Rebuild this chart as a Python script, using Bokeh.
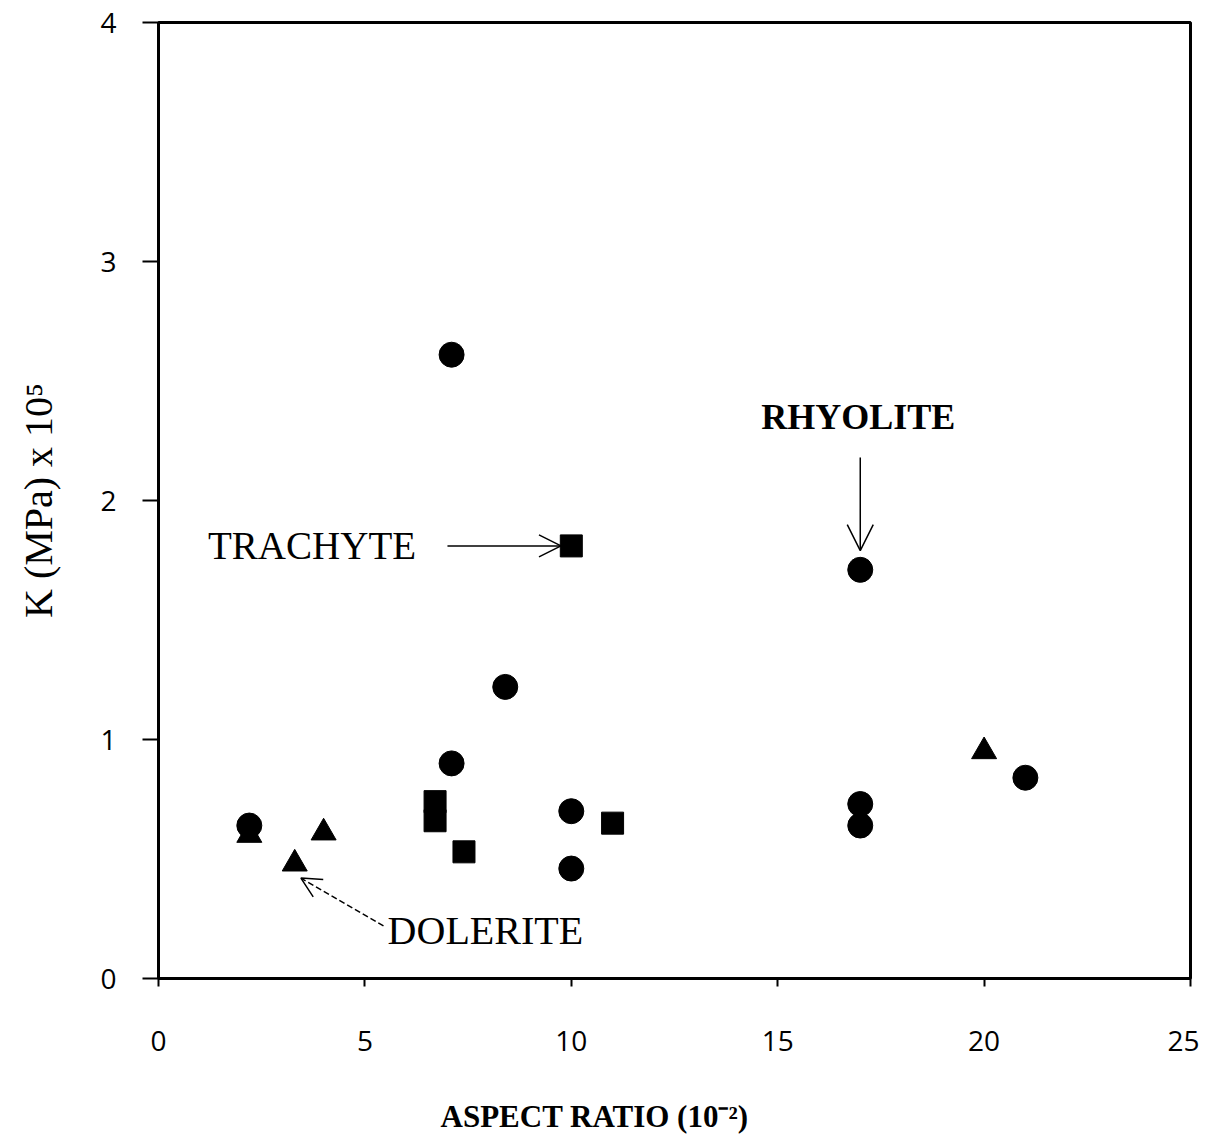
from bokeh.plotting import figure
from bokeh.models import Range1d, FixedTicker, Label, Arrow, OpenHead, Title
from bokeh.embed import file_html
from bokeh.resources import INLINE

# ---- data ----
circle_x = [2.2, 7.1, 7.1, 8.4, 10.0, 10.0, 17.0, 17.0, 17.0, 21.0]
circle_y = [0.64, 2.61, 0.90, 1.22, 0.70, 0.46, 1.71, 0.73, 0.64, 0.84]
square_x = [6.7, 6.7, 7.4, 10.0, 11.0]
square_y = [0.74, 0.66, 0.53, 1.81, 0.65]
triangle_x = [2.2, 3.3, 4.0, 20.0]
triangle_y = [0.60, 0.48, 0.61, 0.95]
x_ticks = [0, 5, 10, 15, 20, 25]
y_ticks = [0, 1, 2, 3, 4]

SERIF = "Liberation Serif"
TICKFONT = "Open Sans"

p = figure(width=1199, height=1190,
           x_range=Range1d(0, 25), y_range=Range1d(0, 4),
           output_backend="svg", toolbar_location=None,
           min_border_left=158, min_border_right=9,
           min_border_top=22, min_border_bottom=212)

p.grid.visible = False
p.outline_line_color = "black"
p.outline_line_width = 3
p.outline_line_alpha = 1.0
p.background_fill_color = "white"
p.border_fill_color = "white"

for ax in (p.xaxis[0], p.yaxis[0]):
    ax.axis_line_width = 3
    ax.axis_line_color = "black"
    ax.major_tick_line_width = 2
    ax.major_tick_line_color = "black"
    ax.minor_tick_line_color = None
    ax.major_tick_in = 0
    ax.major_label_text_font = TICKFONT
    ax.major_label_text_font_size = "28px"
    ax.major_label_text_color = "black"

p.xaxis.ticker = FixedTicker(ticks=x_ticks)
p.yaxis.ticker = FixedTicker(ticks=y_ticks)
p.xaxis.major_tick_out = 8
p.xaxis.major_label_standoff = 44
p.yaxis.major_tick_out = 16
p.yaxis.major_label_standoff = 26

p.yaxis.axis_label = "K (MPa) x 10\u2075"
p.yaxis.axis_label_text_font = SERIF
p.yaxis.axis_label_text_font_style = "normal"
p.yaxis.axis_label_text_font_size = "40px"
p.yaxis.axis_label_text_color = "black"
p.yaxis.axis_label_standoff = 36

# x-axis title, placed left of centre as in the reference
p.add_layout(Title(text="ASPECT RATIO (10\u207b\u00b2)", align="left", offset=282,
                   text_font=SERIF, text_font_style="bold", text_font_size="31px",
                   text_color="black", standoff=86), "below")

# ---- markers ----
p.scatter(circle_x, circle_y, marker="circle", size=25, color="black")
p.scatter(square_x, square_y, marker="square", size=22, color="black")
p.scatter(triangle_x, triangle_y, marker="triangle", size=25, color="black")

# ---- annotations ----
p.add_layout(Label(x=1.2, y=1.81, text="TRACHYTE", text_font=SERIF,
                   text_font_size="39px", text_baseline="middle",
                   text_align="left", text_color="black"))
p.add_layout(Arrow(end=OpenHead(size=22, line_width=1.5, line_color="black"),
                   x_start=7.0, y_start=1.81, x_end=9.75, y_end=1.81,
                   line_width=1.5, line_color="black"))

p.add_layout(Label(x=16.95, y=2.35, text="RHYOLITE", text_font=SERIF,
                   text_font_style="bold", text_font_size="36px",
                   text_baseline="middle", text_align="center", text_color="black"))
p.add_layout(Arrow(end=OpenHead(size=26, line_width=1.5, line_color="black"),
                   x_start=17.0, y_start=2.18, x_end=17.0, y_end=1.79,
                   line_width=1.5, line_color="black"))

p.add_layout(Label(x=5.55, y=0.2, text="DOLERITE", text_font=SERIF,
                   text_font_size="40px", text_baseline="middle",
                   text_align="left", text_color="black"))
p.add_layout(Arrow(end=OpenHead(size=20, line_width=1.5, line_color="black"),
                   x_start=5.45, y_start=0.22, x_end=3.45, y_end=0.42,
                   line_width=1.5, line_color="black", line_dash="6 3"))

open("out.html", "w").write(file_html(p, INLINE))
